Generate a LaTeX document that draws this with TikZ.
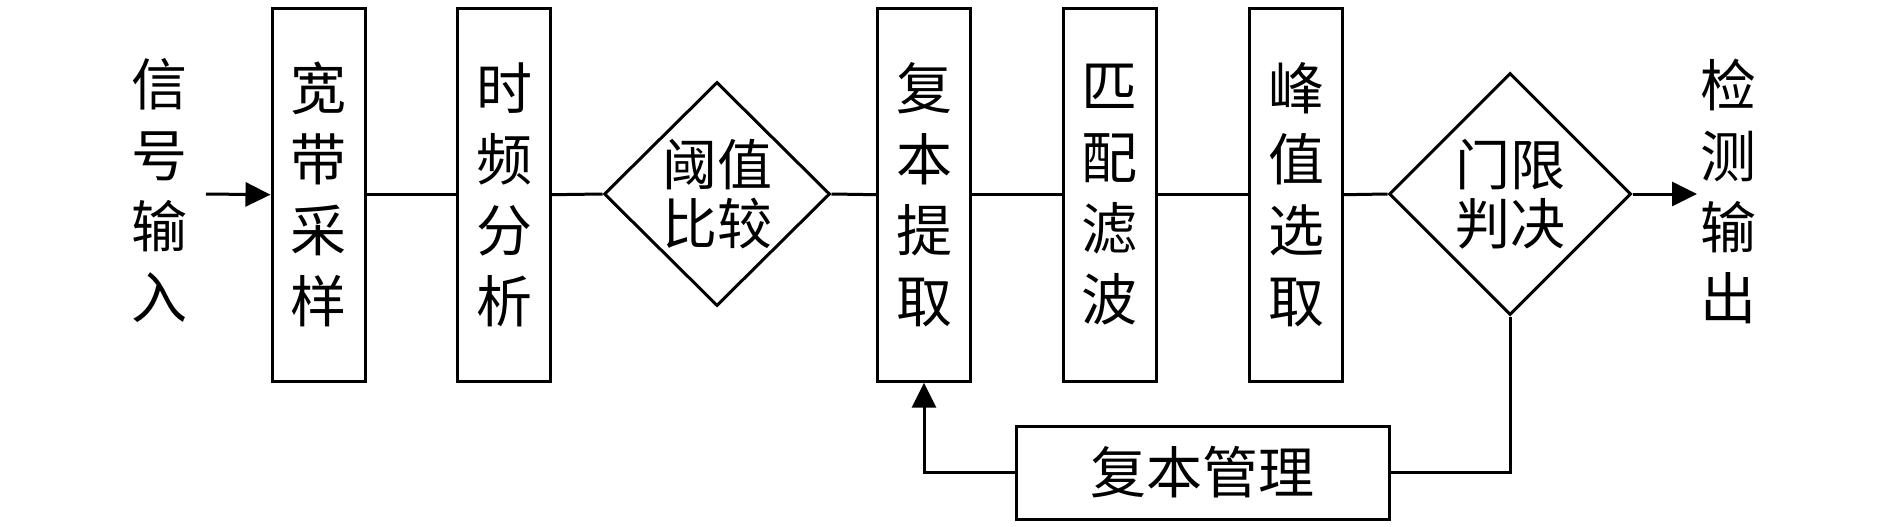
\documentclass[tikz,border=0pt]{standalone}
\usepackage{fontspec}
\newfontfamily\cjk{Noto Sans CJK SC}
\usetikzlibrary{shapes.geometric,arrows.meta}
\tikzset{
  blk/.style={draw, line width=3pt, rectangle, inner sep=0pt, minimum width=93pt, minimum height=373pt, align=center, font=\cjk\fontsize{56}{71}\selectfont},
  dia/.style={draw, line width=3pt, diamond, inner sep=0pt, align=center, font=\cjk\fontsize{55}{59}\selectfont},
  lbl/.style={inner sep=0pt, align=center, font=\cjk\fontsize{56}{71}\selectfont},
  wire/.style={line width=3pt},
  arr/.style={line width=3pt, -{Triangle[length=25pt,width=24pt]}}
}
\begin{document}
\begin{tikzpicture}[x=1pt,y=-1pt]
\useasboundingbox (0,0) rectangle (1890,527);
\node[lbl] (in) at (159,191) {信\\号\\输\\入};
\coordinate (inA) at (206,194);
\node[blk] (b1) at (318.5,194.7) {宽\\带\\采\\样};
\node[blk] (b2) at (504,194.7) {时\\频\\分\\析};
\node[dia, minimum width=226pt, minimum height=224pt] (d1) at (717,194) {阈值\\比较};
\node[blk] (b3) at (924,194.7) {复\\本\\提\\取};
\node[blk] (b4) at (1109.5,194.7) {匹\\配\\滤\\波};
\node[blk] (b5) at (1296,194.7) {峰\\值\\选\\取};
\node[dia, minimum width=242pt, minimum height=242pt] (d2) at (1510,194) {门限\\判决};
\node[lbl] (out) at (1728,191) {检\\测\\输\\出};
\coordinate (outA) at (1697,194);
\node[draw, line width=3pt, rectangle, inner sep=0pt, minimum width=373pt, minimum height=93pt, font=\cjk\fontsize{56}{71}\selectfont] (m) at (1202.5,472.5) {复本管理};
\draw[arr] (inA) -- (b1.west);
\draw[wire] (b1.east) -- (b2.west);
\draw[wire] (b2.east) -- (d1.west);
\draw[wire] (d1.east) -- (b3.west);
\draw[wire] (b3.east) -- (b4.west);
\draw[wire] (b4.east) -- (b5.west);
\draw[wire] (b5.east) -- (d2.west);
\draw[arr] (d2.east) -- (outA);
\draw[wire] (d2.south) |- (m.east);
\draw[arr] (m.west) -| (b3.south);
\end{tikzpicture}
\end{document}
